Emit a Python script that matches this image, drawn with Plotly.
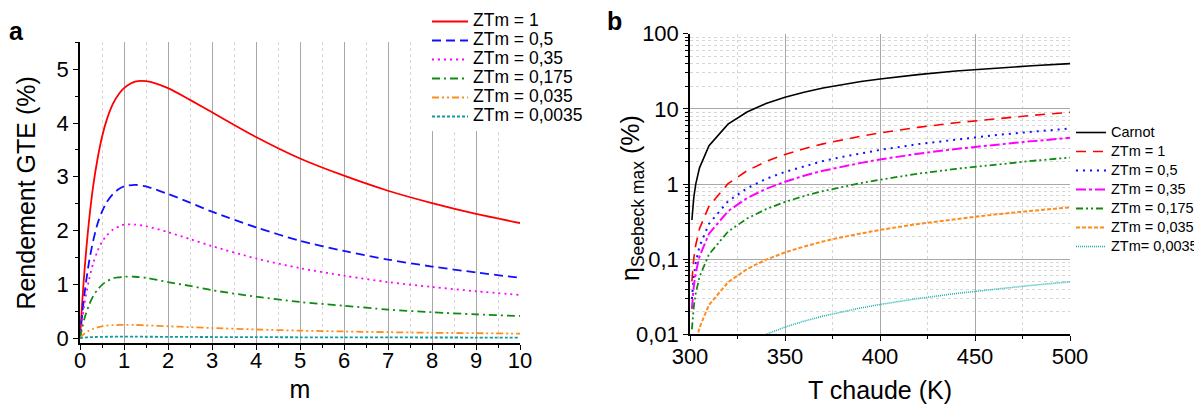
import plotly.graph_objects as go

# ---------------- Panel a data ----------------
m_vals = [0, 0.05, 0.1, 0.2, 0.3, 0.4, 0.5, 0.6, 0.75, 0.9, 1, 1.25, 1.5, 2, 2.5, 3, 4, 5, 6, 7, 8, 9, 10]
a_zt1 = [0, 0.66, 1.23, 2.14, 2.83, 3.34, 3.74, 4.04, 4.36, 4.56, 4.65, 4.77, 4.78, 4.65, 4.43, 4.20, 3.74, 3.34, 3.02, 2.74, 2.51, 2.31, 2.14]
a_zt05 = [0, 0.44, 0.81, 1.39, 1.81, 2.13, 2.35, 2.52, 2.68, 2.78, 2.82, 2.85, 2.82, 2.68, 2.52, 2.35, 2.06, 1.81, 1.62, 1.46, 1.33, 1.22, 1.12]
a_zt035 = [0, 0.34, 0.63, 1.07, 1.39, 1.62, 1.79, 1.90, 2.02, 2.08, 2.11, 2.11, 2.08, 1.97, 1.84, 1.71, 1.48, 1.30, 1.16, 1.04, 0.95, 0.87, 0.80]
a_zt0175 = [0, 0.19, 0.36, 0.60, 0.78, 0.90, 0.99, 1.05, 1.11, 1.13, 1.14, 1.14, 1.12, 1.04, 0.97, 0.89, 0.77, 0.67, 0.60, 0.53, 0.48, 0.44, 0.41]
a_zt0035 = [0, 0.044, 0.080, 0.135, 0.173, 0.199, 0.217, 0.229, 0.240, 0.244, 0.245, 0.243, 0.236, 0.219, 0.202, 0.186, 0.159, 0.138, 0.122, 0.109, 0.098, 0.090, 0.082]
a_zt00035 = [0, 0.0045, 0.0082, 0.0138, 0.0177, 0.0204, 0.0222, 0.0234, 0.0244, 0.0249, 0.025, 0.0246, 0.024, 0.0222, 0.0204, 0.0187, 0.016, 0.0139, 0.0122, 0.0109, 0.0099, 0.009, 0.0083]
a_names = ["ZTm = 1", "ZTm = 0,5", "ZTm = 0,35", "ZTm = 0,175", "ZTm = 0,035", "ZTm = 0,0035"]

# ---------------- Panel b data ----------------
T_hot = [301, 302, 303, 305, 310, 320, 330, 340, 350, 360, 370, 380, 390, 400, 420, 440, 460, 480, 500]
b_carnot = [0.332, 0.662, 0.990, 1.639, 3.226, 6.25, 9.09, 11.76, 14.29, 16.67, 18.92, 21.05, 23.08, 25.0, 28.57, 31.82, 34.78, 37.5, 40.0]
b_zt1 = [0.0511, 0.102, 0.153, 0.255, 0.508, 1.01, 1.50, 1.99, 2.47, 2.95, 3.42, 3.88, 4.33, 4.78, 5.67, 6.53, 7.37, 8.19, 8.99]
b_zt05 = [0.0296, 0.0592, 0.0888, 0.148, 0.295, 0.588, 0.878, 1.17, 1.45, 1.73, 2.02, 2.29, 2.57, 2.84, 3.39, 3.92, 4.45, 4.96, 5.47]
b_zt035 = [0.0218, 0.0436, 0.0654, 0.109, 0.218, 0.434, 0.649, 0.862, 1.07, 1.29, 1.50, 1.70, 1.91, 2.12, 2.53, 2.93, 3.33, 3.72, 4.11]
b_zt0175 = [0.01164, 0.0233, 0.0349, 0.0582, 0.116, 0.232, 0.347, 0.462, 0.577, 0.691, 0.805, 0.919, 1.03, 1.14, 1.37, 1.59, 1.81, 2.03, 2.25]
b_zt0035 = [0.00246, 0.00493, 0.00739, 0.0123, 0.0246, 0.0492, 0.0738, 0.0984, 0.123, 0.147, 0.172, 0.196, 0.221, 0.245, 0.294, 0.343, 0.392, 0.440, 0.489]
T_low = [330, 340, 350, 360, 370, 380, 390, 400, 420, 440, 460, 480, 500]
b_zt00035 = [0.00749, 0.00998, 0.01248, 0.01497, 0.01747, 0.01996, 0.02246, 0.02495, 0.02994, 0.03493, 0.0399, 0.0449, 0.0499]
b_names = ["Carnot", "ZTm = 1", "ZTm = 0,5", "ZTm = 0,35", "ZTm = 0,175", "ZTm = 0,035", "ZTm= 0,0035"]

y_b_ticks = [0.01, 0.1, 1, 10, 100]
y_b_ticktext = ["0,01", "0,1", "1", "10", "100"]

FONT = "Arial, Liberation Sans, sans-serif"
RED, BLUE, MAG, GRN, ORG, TEAL = "#ff0000", "#1010ff", "#ff00ff", "#108a10", "#ff8c1a", "#109c9c"


def sized(txt, size):
    return '<span style="font-size:%spx">%s</span>' % (size, txt)


fig = go.Figure()

a_series = [a_zt1, a_zt05, a_zt035, a_zt0175, a_zt0035, a_zt00035]
a_colors = [RED, BLUE, MAG, GRN, ORG, TEAL]
a_dashes = ["solid", "9px,5px", "2px,4px", "8px,4px,2px,4px", "7px,3px,2px,3px,2px,3px", "3px,2px"]
for ys, nm, c, d in zip(a_series, a_names, a_colors, a_dashes):
    fig.add_trace(go.Scatter(x=m_vals, y=ys, name=sized(nm, 17.5), mode="lines",
                             line=dict(color=c, width=1.8, dash=d, shape="spline", smoothing=0.8),
                             xaxis="x", yaxis="y", legend="legend"))

b_series = [b_carnot, b_zt1, b_zt05, b_zt035, b_zt0175, b_zt0035]
b_colors = ["#000000", RED, BLUE, MAG, GRN, ORG]
b_dashes = ["solid", "10px,7px", "2px,5px", "10px,3px,3px,3px", "7px,3px,2px,3px,2px,3px", "4px,2px"]
b_widths = [1.6, 1.6, 2, 2, 1.8, 2]
for ys, nm, c, d, w in zip(b_series, b_names[:-1], b_colors, b_dashes, b_widths):
    fig.add_trace(go.Scatter(x=T_hot, y=ys, name=sized(nm, 14.5), mode="lines",
                             line=dict(color=c, width=w, dash=d),
                             xaxis="x2", yaxis="y2", legend="legend2"))
fig.add_trace(go.Scatter(x=T_low, y=b_zt00035, name=sized(b_names[-1], 14.5), mode="lines",
                         line=dict(color="#20b0b0", width=1.6, dash="1px,1px"),
                         xaxis="x2", yaxis="y2", legend="legend2"))

# The page body has an 8px margin: the figure is drawn 8px right/down of the window origin.
OFF = 8
W, H = 1202 - OFF, 410 - OFF
def px_x(p):
    return (p - OFF) / W
def px_y(p):
    return 1 - (p - OFF) / H

tickfont = dict(family=FONT, size=22, color="#000")
titlefont = dict(family=FONT, size=25, color="#000")

minor_log = [k * 10 ** e for e in range(-2, 2) for k in range(2, 10)]

fig.update_layout(
    width=W, height=H,
    margin=dict(l=0, r=0, t=0, b=0, autoexpand=False),
    paper_bgcolor="white", plot_bgcolor="white",
    font=dict(family=FONT, color="#000"),
    xaxis=dict(domain=[px_x(80), px_x(520)], range=[0, 10], dtick=1, tick0=0,
               showline=True, linecolor="#000", linewidth=1.5, mirror=False,
               ticks="outside", ticklen=5, tickwidth=1.2, tickcolor="#000",
               showgrid=True, gridcolor="#a8a8a8", gridwidth=1, zeroline=False,
               minor=dict(dtick=0.5, ticks="outside", ticklen=3, tickcolor="#000",
                          showgrid=True, gridcolor="#d6d6d6", griddash="dot", gridwidth=1),
               tickfont=tickfont, ticklabelstandoff=-9,
               title=dict(text="m", font=titlefont, standoff=9),
               anchor="y", automargin=False),
    yaxis=dict(domain=[px_y(343.4), px_y(42.4)], range=[-0.1, 5.5], dtick=1, tick0=0,
               showline=True, linecolor="#000", linewidth=1.5,
               ticks="outside", ticklen=5, tickwidth=1.2, tickcolor="#000",
               showgrid=False, zeroline=False,
               minor=dict(dtick=0.5, ticks="outside", ticklen=3, tickcolor="#000", showgrid=False),
               tickfont=tickfont, title=dict(text="Rendement GTE (%)", font=titlefont, standoff=14),
               anchor="x", automargin=False),
    xaxis2=dict(domain=[px_x(690), px_x(1070)], range=[300, 500], dtick=50, tick0=300,
                showline=True, linecolor="#000", linewidth=1.5,
                ticks="outside", ticklen=5, tickwidth=1.2, tickcolor="#000",
                showgrid=True, gridcolor="#a8a8a8", gridwidth=1, zeroline=False,
                minor=dict(dtick=25, ticks="outside", ticklen=3, tickcolor="#000",
                           showgrid=True, gridcolor="#d6d6d6", griddash="dot", gridwidth=1),
                tickfont=tickfont, ticklabelstandoff=-3,
                title=dict(text="T chaude (K)", font=titlefont, standoff=13),
                anchor="y2", automargin=False),
    yaxis2=dict(domain=[px_y(334.3), px_y(33.7)], type="log", range=[-2, 2],
                tickmode="array", tickvals=y_b_ticks, ticktext=y_b_ticktext,
                showline=True, linecolor="#000", linewidth=1.5,
                ticks="outside", ticklen=5, tickwidth=1.2, tickcolor="#000",
                showgrid=True, gridcolor="#a8a8a8", gridwidth=1, zeroline=False,
                minor=dict(tickmode="array", tickvals=minor_log, ticks="outside", ticklen=3,
                           tickcolor="#000", showgrid=True, gridcolor="#d6d6d6",
                           griddash="dot", gridwidth=1),
                tickfont=tickfont, anchor="x2", automargin=False),
    legend=dict(x=px_x(427), y=px_y(7), xanchor="left", yanchor="top",
                bgcolor="rgba(255,255,255,1)", borderwidth=0,
                font=dict(family=FONT, size=12.3, color="#000"),
                itemwidth=36, tracegroupgap=0),
    legend2=dict(x=px_x(1071), y=px_y(118), xanchor="left", yanchor="top",
                 bgcolor="rgba(255,255,255,0)", borderwidth=0,
                 font=dict(family=FONT, size=12, color="#000"),
                 itemwidth=30, tracegroupgap=0),
    annotations=[
        dict(text="<b>a</b>", x=px_x(16), y=px_y(31), xref="paper", yref="paper",
             xanchor="center", yanchor="middle",
             showarrow=False, font=dict(family=FONT, size=25, color="#000")),
        dict(text="<b>b</b>", x=px_x(614), y=px_y(21), xref="paper", yref="paper",
             xanchor="center", yanchor="middle",
             showarrow=False, font=dict(family=FONT, size=25, color="#000")),
        dict(text="η<sub>Seebeck max</sub> (%)", x=px_x(632), y=px_y(198), xref="paper", yref="paper",
             xanchor="center", yanchor="middle",
             textangle=-90, showarrow=False, font=dict(family=FONT, size=25, color="#000")),
    ],
)

fig.write_html("out.html")
